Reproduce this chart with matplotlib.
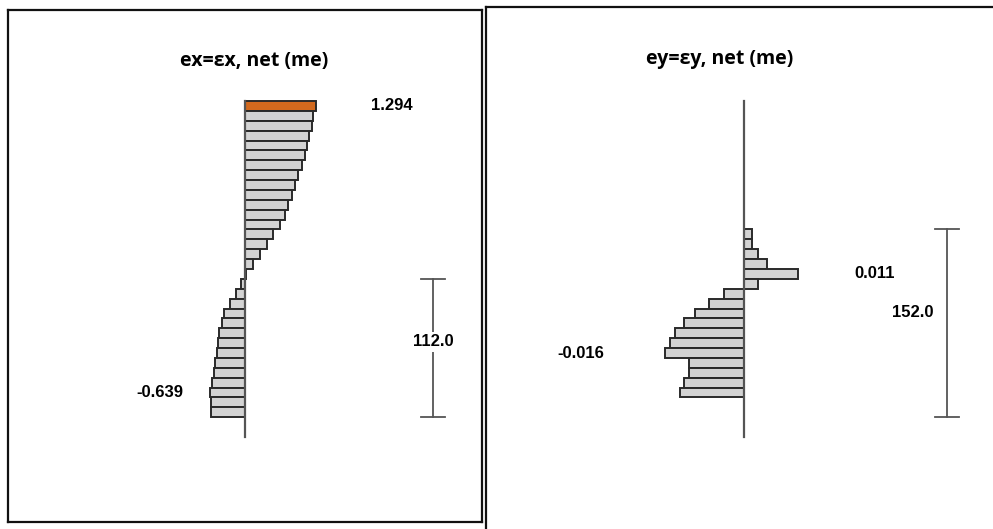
import numpy as np
import matplotlib
matplotlib.use("Agg")
import matplotlib.pyplot as plt
import matplotlib.transforms as mtransforms

W, H = 993, 529
STRIP = 8.0        # strip height along the section
SECTION = 272.0    # full section depth

# ex = εx, net (me): one value per strip, from the top strip down
ex_vals = [1.294, 1.245, 1.227, 1.172, 1.136, 1.094, 1.032, 0.960, 0.918, 0.858,
           0.785, 0.736, 0.645, 0.513, 0.407, 0.267, 0.154, 0.025,
           -0.064, -0.162, -0.273, -0.383, -0.423, -0.470, -0.500, -0.517,
           -0.540, -0.557, -0.597, -0.639, -0.615, -0.615]
ex_top = 0.0
ex_scale = (144.0, 256.0)

# ey = εy, net (me)
ey_vals = [0.0016, 0.0016, 0.0028, 0.0047, 0.011, 0.0028,
           -0.0041, -0.0071, -0.0100, -0.0121, -0.0141, -0.0151, -0.016,
           -0.0111, -0.0111, -0.0121, -0.0130]
ey_top = 104.0
ey_scale = (104.0, 256.0)

GREY, HILITE, EDGE = "#d3d3d3", "#d2691e", "#2a2a2a"
Y0_PX, PX_PER = 101.0, 336.0 / SECTION   # pixel row of depth 0, pixels per depth unit

fig = plt.figure(figsize=(W / 100, H / 100), dpi=100)

def px_axes(x0, y0, x1, y1):
    ax = fig.add_axes([x0 / W, 1 - y1 / H, (x1 - x0) / W, (y1 - y0) / H])
    ax.set_ylim((y1 - Y0_PX) / PX_PER, (y0 - Y0_PX) / PX_PER)
    ax.set_xticks([]); ax.set_yticks([])
    return ax

NUM = dict(fontfamily="Liberation Sans", fontweight="bold", fontsize=12, va="center", ha="center")

def panel(ax, vals, top, scale, title, title_x, scale_x, lab_pos, lab_neg, highlight):
    vals = np.asarray(vals)
    yc = top + STRIP * (np.arange(len(vals)) + 0.5)
    cols = [GREY] * len(vals)
    if highlight:
        cols[int(np.argmax(vals))] = HILITE
    ax.barh(yc, vals, height=STRIP, color=cols, edgecolor=EDGE, linewidth=1.4, zorder=2)
    ax.plot([0, 0], [0, SECTION], color="#555555", lw=1.6, zorder=3)

    tr = mtransforms.blended_transform_factory(ax.transAxes, ax.transData)
    s0, s1 = scale
    cap = 12.0 / (ax.get_position().width * W)
    ax.plot([scale_x, scale_x], [s0, s1], color="#555555", lw=1.3, transform=tr)
    for s in (s0, s1):
        ax.plot([scale_x - cap, scale_x + cap], [s, s], color="#555555", lw=1.3, transform=tr)

    imax, imin = int(np.argmax(vals)), int(np.argmin(vals))
    ax.text(lab_pos, yc[imax], f"{vals[imax]:.3f}", transform=tr, **NUM)
    ax.text(lab_neg, yc[imin], f"{vals[imin]:.3f}", transform=tr, **NUM)
    ax.text(title_x, 0.9, title, transform=ax.transAxes, ha="center", va="center",
            fontfamily="Open Sans", fontweight="bold", fontsize=14)
    return tr

# left panel
axL = px_axes(8, 10, 482, 522)
sL = 1.294 / 71.0
axL.set_xlim(-237 * sL, 237 * sL)
for sp in axL.spines.values():
    sp.set_linewidth(1.6); sp.set_color("#111111")
tr = panel(axL, ex_vals, ex_top, ex_scale, "ex=εx, net (me)", 0.52, 0.897, 0.81, 0.321, True)
axL.text(0.897, sum(ex_scale) / 2 - 5, f"{ex_scale[1] - ex_scale[0]:.1f}", transform=tr,
         bbox=dict(facecolor="white", edgecolor="none", pad=2), **NUM)

# right panel
axR = px_axes(486, 7, 993, 529)
sR = 0.000203
axR.set_xlim((486 - 744) * sR, (993 - 744) * sR)
for k in ("bottom", "right"):
    axR.spines[k].set_visible(False)
for k in ("top", "left"):
    axR.spines[k].set_linewidth(1.6); axR.spines[k].set_color("#111111")
tr = panel(axR, ey_vals, ey_top, ey_scale, "ey=εy, net (me)", 0.46, 0.909, 0.767, 0.187, False)
axR.text(0.842, sum(ey_scale) / 2 - 9, f"{ey_scale[1] - ey_scale[0]:.1f}", transform=tr, **NUM)

fig.savefig("out.png", dpi=100)
